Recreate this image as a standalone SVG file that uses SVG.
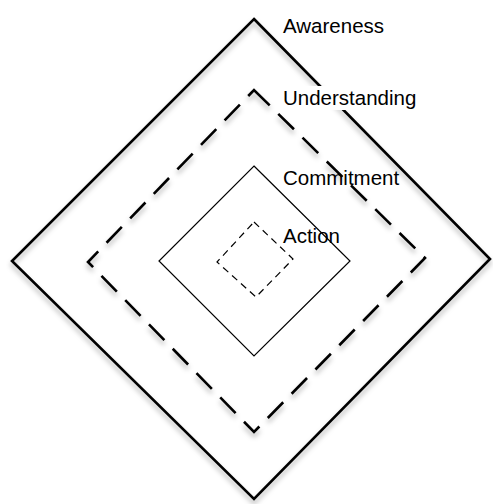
<svg xmlns="http://www.w3.org/2000/svg" width="493" height="504" viewBox="0 0 493 504">
<style>
.lbl{font-family:"Liberation Sans",Arial,sans-serif;font-size:20.5px;fill:#000}
.thick{fill:none;stroke:#000;stroke-width:2.6}
.thin{fill:none;stroke:#000;stroke-width:1.2}
</style>
<defs>
<filter id="sh" x="-10%" y="-10%" width="120%" height="125%">
<feDropShadow dx="0" dy="4" stdDeviation="2.5" flood-color="#000" flood-opacity="0.3"/>
</filter>
</defs>
<rect width="493" height="504" fill="#fff"/>
<g id="action">
<text class="lbl" x="283" y="243">Action</text>
<polygon class="thin" stroke-dasharray="7,5" points="254,222 293,259 256,297 217,262"/>
</g>
<g id="commitment">
<text class="lbl" x="283" y="185">Commitment</text>
<polygon class="thin" points="254,166 350,261 254,356 159,261"/>
</g>
<g id="awareness">
<polygon class="thick" filter="url(#sh)" points="254,19 490,259 254,499 12,261"/>
<text class="lbl" x="283" y="33">Awareness</text>
</g>
<g id="understanding">
<polygon class="thick" filter="url(#sh)" stroke-dasharray="22,12" points="254,90 425,258 254,432 88,262"/>
<rect x="279" y="86" width="142" height="24" fill="#fff"/>
<text class="lbl" x="283" y="105">Understanding</text>
</g>
<g id="connectors"></g>
</svg>
